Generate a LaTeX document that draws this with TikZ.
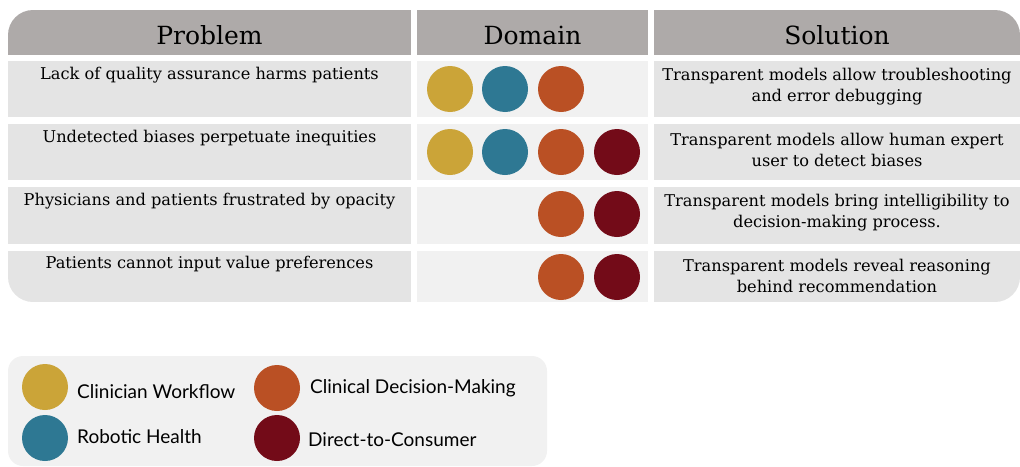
\documentclass[tikz,border=0pt]{standalone}
\usepackage{fontspec}
\setmainfont{DejaVu Serif}
\newfontfamily\legendfont{Lato}
\definecolor{hdrgray}{HTML}{AEAAA9}
\definecolor{cellgray}{HTML}{E4E4E4}
\definecolor{domgray}{HTML}{F1F1F1}
\definecolor{cwgold}{HTML}{CBA438}
\definecolor{rhblue}{HTML}{2E7893}
\definecolor{cdorange}{HTML}{BA5024}
\definecolor{dcred}{HTML}{730B18}
\begin{document}
\begin{tikzpicture}[x=1pt,y=-1pt,
 hdr/.style={inner sep=0pt,font=\fontsize{25}{30}\selectfont},
 txt/.style={inner sep=0pt,align=center,font=\fontsize{16.2}{21}\selectfont},
 dot/.style={circle,minimum size=46pt,inner sep=0pt},
 leg/.style={inner sep=0pt,anchor=west,font=\legendfont\fontsize{19}{22}\selectfont}]
 \useasboundingbox (0,0) rectangle (1020,466);
 \begin{scope}
 \clip[rounded corners=25pt](8,10) rectangle (1020,302);
 \fill[hdrgray](8,10) rectangle (411,55);
 \fill[hdrgray](417,10) rectangle (648,55);
 \fill[hdrgray](654,10) rectangle (1020,55);
 \fill[cellgray](8,61) rectangle (411,117);
 \fill[domgray](417,61) rectangle (648,117);
 \fill[cellgray](654,61) rectangle (1020,117);
 \fill[cellgray](8,124) rectangle (411,180);
 \fill[domgray](417,124) rectangle (648,180);
 \fill[cellgray](654,124) rectangle (1020,180);
 \fill[cellgray](8,187) rectangle (411,244);
 \fill[domgray](417,187) rectangle (648,244);
 \fill[cellgray](654,187) rectangle (1020,244);
 \fill[cellgray](8,251) rectangle (411,302);
 \fill[domgray](417,251) rectangle (648,302);
 \fill[cellgray](654,251) rectangle (1020,302);
 \end{scope}
 \node[hdr] (hprob) at (209.5,35) {Problem};
 \node[hdr] (hdom) at (532.5,35) {Domain};
 \node[hdr] (hsol) at (837,35) {Solution};
 \node[txt] (prob1) at (209.5,75.5) {Lack of quality assurance harms patients};
 \node[txt] (prob2) at (209.5,138.5) {Undetected biases perpetuate inequities};
 \node[txt] (prob3) at (209.5,201.5) {Physicians and patients frustrated by opacity};
 \node[txt] (prob4) at (209.5,264.5) {Patients cannot input value preferences};
 \node[txt] (sol1) at (837,86.5) {Transparent models allow troubleshooting\\and error debugging};
 \node[txt] (sol2) at (837,149.5) {Transparent models allow human expert\\user to detect biases};
 \node[txt] (sol3) at (837,212.5) {Transparent models bring intelligibility to\\decision-making process.};
 \node[txt] (sol4) at (837,275.5) {Transparent models reveal reasoning\\behind recommendation};
 \node[dot,fill=cwgold] (dom1a) at (450,89) {};
 \node[dot,fill=rhblue] (dom1b) at (505,89) {};
 \node[dot,fill=cdorange] (dom1c) at (561,89) {};
 \node[dot,fill=cwgold] (dom2a) at (450,152) {};
 \node[dot,fill=rhblue] (dom2b) at (505,152) {};
 \node[dot,fill=cdorange] (dom2c) at (561,152) {};
 \node[dot,fill=dcred] (dom2d) at (617,152) {};
 \node[dot,fill=cdorange] (dom3c) at (561,214) {};
 \node[dot,fill=dcred] (dom3d) at (617,214) {};
 \node[dot,fill=cdorange] (dom4c) at (561,277) {};
 \node[dot,fill=dcred] (dom4d) at (617,277) {};
 % legend
 \fill[domgray,rounded corners=15pt](8,356) rectangle (547,466);
 \node[dot,fill=cwgold] (legcw) at (45,387) {};
 \node[dot,fill=rhblue] (legrh) at (45,438) {};
 \node[dot,fill=cdorange] (legcd) at (277,388) {};
 \node[dot,fill=dcred] (legdc) at (277,438) {};
 \node[leg] (cwtext) at (77,392) {Clinician Workflow};
 \node[leg] (rhtext) at (77,437) {Robotic Health};
 \node[leg] (cdtext) at (310,388) {Clinical Decision-Making};
 \node[leg] (dctext) at (308,440) {Direct-to-Consumer};
\end{tikzpicture}
\end{document}
